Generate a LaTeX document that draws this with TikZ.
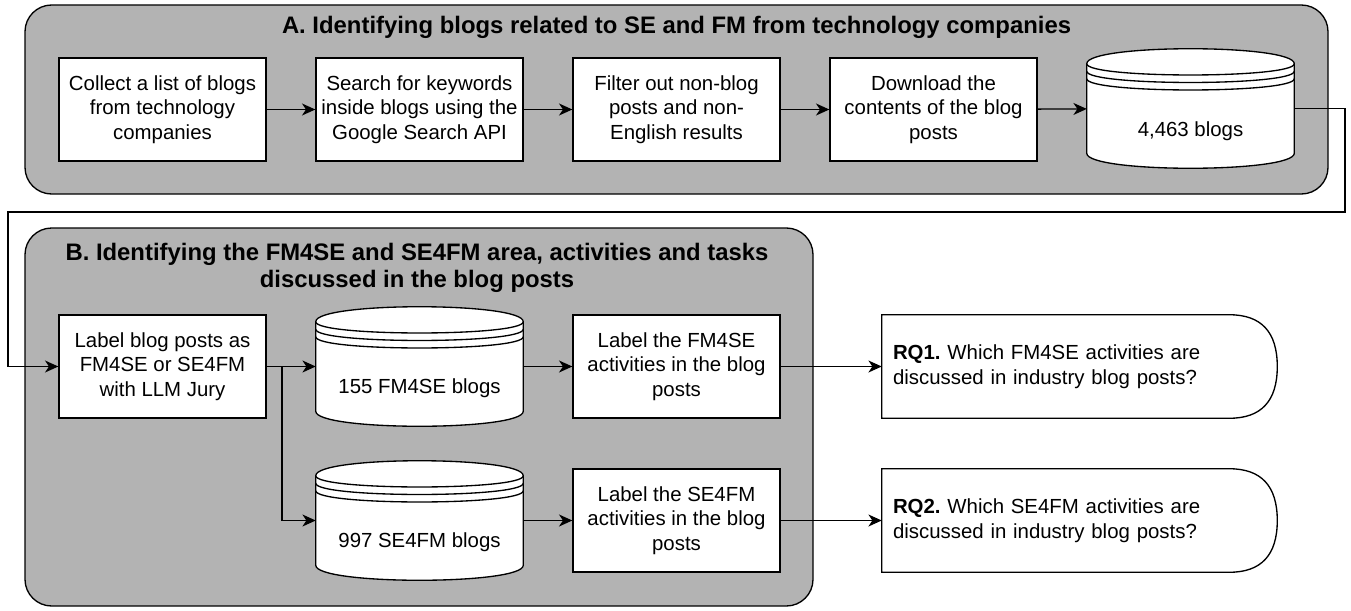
\documentclass[tikz,border=0pt]{standalone}
\usepackage{fontspec}
\setmainfont{Liberation Sans}
\usetikzlibrary{arrows.meta,calc}
\definecolor{areagray}{HTML}{B3B3B3}

\begin{document}
\begin{tikzpicture}[
    x=0.75pt,y=-0.75pt,
    >={Stealth[length=10pt,width=9pt,inset=3pt]},
    area/.style={
        rounded corners=20pt,
        draw=black,
        fill=areagray,
        line width=1pt
    },
    areatitle/.style={
        font=\fontsize{17.9}{20.3}\selectfont\bfseries,
        align=center
    },
    block/.style={
        draw=black,
        fill=white,
        line width=1pt,
        minimum width=155.25pt,
        minimum height=77.25pt,
        inner sep=2pt,
        font=\fontsize{15.3}{18.4}\selectfont,
        align=center
    },
    store/.style={
        minimum width=155.25pt,
        minimum height=89.25pt,
        inner sep=0pt
    },
    storetext/.style={
        font=\fontsize{15.3}{18.4}\selectfont
    },
    rq/.style={
        minimum height=77.25pt,
        inner xsep=8.25pt,
        text width=279.75pt,
        align=left,
        font=\fontsize{15.3}{18.4}\selectfont
    },
    outline/.style={draw=black, fill=white, line width=1pt},
    arr/.style={->, line width=1pt, draw=black}
]
    \useasboundingbox (0,0) rectangle (1351,610);

    % part A
    \draw[area] (25,5) rectangle (1328,194);
    \node[areatitle] (titleA) at (676.5,27) {A. Identifying blogs related to SE and FM from technology companies};

    \node[block] (collect) at (162.5,109.5) {Collect a list of blogs\\ from technology\\ companies};
    \node[block] (search) at (419.5,109.5) {Search for keywords\\ inside blogs using the\\ Google Search API};
    \node[block] (filter) at (676.5,109.5) {Filter out non-blog\\ posts and non-\\ English results};
    \node[block] (download) at (933.5,109.5) {Download the\\ contents of the blog\\ posts};
    \node[store] (dbA) at (1190.5,108.5) {};

    % part B
    \draw[area] (25,228) rectangle (813,606);
    \node[areatitle] (titleB) at (417,268) {B. Identifying the FM4SE and SE4FM area, activities and tasks\\ discussed in the blog posts};

    \node[block] (jury) at (162.5,366.5) {Label blog posts as\\ FM4SE or SE4FM\\ with LLM Jury};
    \node[store] (dbF) at (419.5,366.5) {};
    \node[store] (dbS) at (419.5,520.5) {};
    \node[block] (labF) at (676.5,366.5) {Label the FM4SE\\ activities in the blog\\ posts};
    \node[block] (labS) at (676.5,520.5) {Label the SE4FM\\ activities in the blog\\ posts};

    % data stores
    \foreach \db in {dbA,dbF,dbS}{
        \draw[outline] let \p1=(\db.north west), \p2=(\db.south east) in
            (\x1,\y1-11.25pt) .. controls (\x1,\y1+3.75pt) and (\x2,\y1+3.75pt) .. (\x2,\y1-11.25pt)
            -- (\x2,\y2+11.25pt) .. controls (\x2,\y2-3.75pt) and (\x1,\y2-3.75pt) .. (\x1,\y2+11.25pt)
            -- cycle;
        \draw[line width=1pt] let \p1=(\db.north west), \p2=(\db.south east) in
            (\x1,\y1-11.25pt) .. controls (\x1,\y1-22.5pt) and (\x2,\y1-22.5pt) .. (\x2,\y1-11.25pt)
            (\x1,\y1-16.875pt) .. controls (\x1,\y1-28.125pt) and (\x2,\y1-28.125pt) .. (\x2,\y1-16.875pt)
            (\x1,\y1-22.5pt) .. controls (\x1,\y1-33.75pt) and (\x2,\y1-33.75pt) .. (\x2,\y1-22.5pt);
    }
    \node[storetext] (dbAtext) at ([yshift=-17pt]dbA.center) {4,463 blogs};
    \node[storetext] (dbFtext) at ([yshift=-16pt]dbF.center) {155 FM4SE blogs};
    \node[storetext] (dbStext) at ([yshift=-16pt]dbS.center) {997 SE4FM blogs};

    % research questions
    \node[rq] (rq1) at (1079.5,366.5) {\textbf{RQ1.}\ Which FM4SE activities are\\ discussed in industry blog posts?};
    \node[rq] (rq2) at (1079.5,520.5) {\textbf{RQ2.}\ Which SE4FM activities are\\ discussed in industry blog posts?};
    \foreach \q in {rq1,rq2}{
        \draw[line width=1pt] let \p1=(\q.north west), \p2=(\q.south east), \p3=(\q.east) in
            (\x1,\y1) -- (\x2-36pt,\y1) .. controls (\x2-12pt,\y1) and (\x2,\y1-12.875pt) .. (\p3)
            .. controls (\x2,\y2+12.875pt) and (\x2-12pt,\y2) .. (\x2-36pt,\y2) -- (\x1,\y2) -- cycle;
    }

    % connectors
    \draw[arr] (collect) -- (search);
    \draw[arr] (search) -- (filter);
    \draw[arr] (filter) -- (download);
    \draw[arr] (download) -- (dbA);

    \coordinate (loopR) at (1345,212);
    \coordinate (loopL) at (8,212);
    \draw[arr] (dbA.east) -| (loopR) -- (loopL) |- (jury.west);

    \coordinate (split) at (282,366.5);
    \draw[arr] (jury) -- (dbF);
    \draw[arr] (split) |- (dbS.west);
    \draw[arr] (dbF) -- (labF);
    \draw[arr] (dbS) -- (labS);
    \draw[arr] (labF) -- (rq1);
    \draw[arr] (labS) -- (rq2);

\end{tikzpicture}
\end{document}
